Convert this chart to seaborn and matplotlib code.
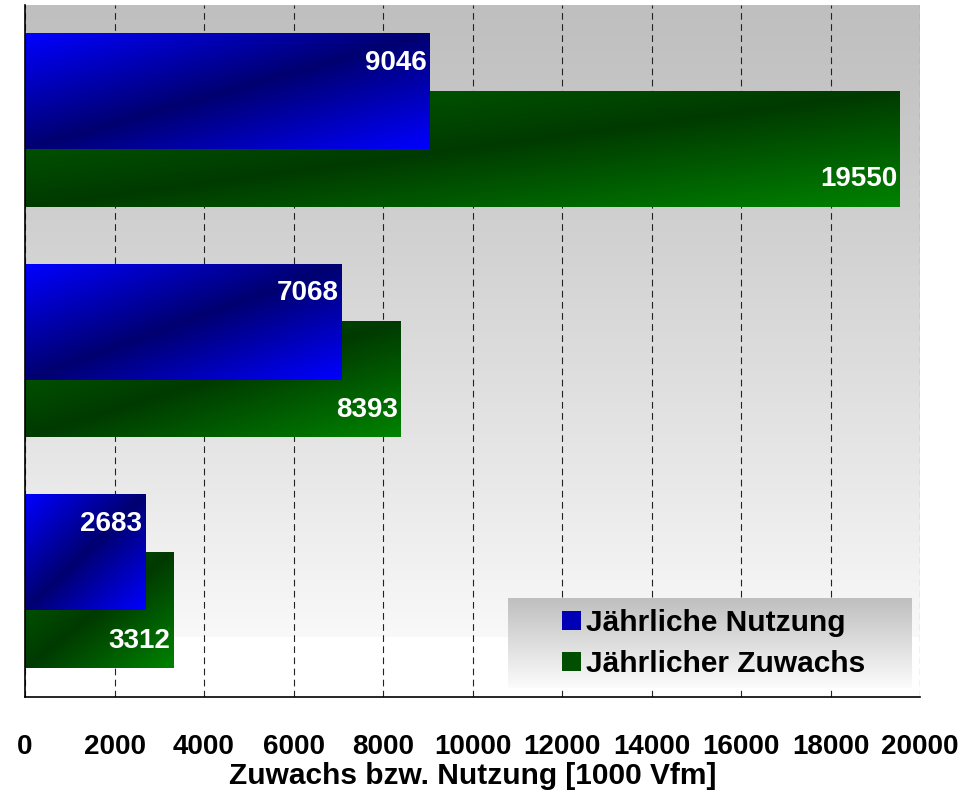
import numpy as np
import pandas as pd
import matplotlib
matplotlib.use("Agg")
import matplotlib.pyplot as plt
import seaborn as sns
from matplotlib.patches import Patch
from matplotlib.colors import to_rgb

# -------------------------
# Daten (von oben nach unten)
# -------------------------
gruppen = ["Gruppe 1", "Gruppe 2", "Gruppe 3"]   # Achsenbeschriftung im Original abgeschnitten
nutzung = [9046, 7068, 2683]
zuwachs = [19550, 8393, 3312]
serien = ["Jährliche Nutzung", "Jährlicher Zuwachs"]
x_ticks = list(range(0, 20001, 2000))

FONT = ["Liberation Sans", "DejaVu Sans"]
BLAU = ("#0000ff", "#000070", "#0000ff")
GRUEN = ("#006400", "#003a00", "#008200")


def diag_gradient(stops, n=64):
    # hell oben links / unten rechts, dunkel auf der Gegendiagonale
    u = np.linspace(0, 1, n)
    uu, vv = np.meshgrid(u, u)
    t = (uu + vv) / 2
    c0, c1, c2 = [np.array(to_rgb(c)) for c in stops]
    lo = np.clip(t / 0.5, 0, 1)[..., None]
    hi = np.clip((t - 0.5) / 0.5, 0, 1)[..., None]
    return np.where((t < 0.5)[..., None], c0 + (c1 - c0) * lo, c1 + (c2 - c1) * hi)


def fill_gradient(ax, patches, stops, z):
    for p in patches:
        x0, y0 = p.get_x(), p.get_y()
        w, h = p.get_width(), p.get_height()
        p.set_facecolor("none")
        p.set_edgecolor("none")
        ax.imshow(diag_gradient(stops), extent=(x0, x0 + w, y0 + h, y0),
                  origin="upper", aspect="auto", interpolation="bilinear", zorder=z)


sns.set_theme(style="white")
plt.rcParams["font.family"] = FONT
plt.rcParams["font.weight"] = "bold"
plt.rcParams["text.color"] = "black"
plt.rcParams["axes.labelcolor"] = "black"
plt.rcParams["xtick.color"] = "black"
plt.rcParams["ytick.color"] = "black"

fig = plt.figure(figsize=(9.66, 7.92), dpi=100)
fig.patch.set_facecolor("white")
ax = fig.add_axes([25 / 966, 95 / 792, 895 / 966, 692 / 792])

pos = np.arange(len(gruppen))
df_n = pd.DataFrame({"pos": pos - 0.125, "wert": nutzung})
df_z = pd.DataFrame({"pos": pos + 0.125, "wert": zuwachs})

sns.barplot(data=df_n, x="wert", y="pos", orient="h", native_scale=True,
            width=0.5, errorbar=None, color=BLAU[1], ax=ax)
p_n = list(ax.patches)
sns.barplot(data=df_z, x="wert", y="pos", orient="h", native_scale=True,
            width=0.5, errorbar=None, color=GRUEN[1], ax=ax)
p_z = [p for p in ax.patches if p not in p_n]

# Nutzung liegt vor dem Zuwachs
fill_gradient(ax, p_z, GRUEN, 2)
fill_gradient(ax, p_n, BLAU, 2.5)

# Werte
for i, v in enumerate(nutzung):
    ax.annotate(f"{v}", (v, pos[i] - 0.25), xytext=(-2, 0), textcoords="offset points",
                ha="right", va="center", color="white", fontsize=20,
                fontweight="bold", zorder=4)
for i, v in enumerate(zuwachs):
    ax.annotate(f"{v}", (v, pos[i] + 0.25), xytext=(-2, -1), textcoords="offset points",
                ha="right", va="center", color="white", fontsize=20,
                fontweight="bold", zorder=4)

# Hintergrund: grau oben -> weiss unten
g = ((np.linspace(0, 1, 256)) ** 1.15)[:, None]
bg = 0.75 + (0.975 - 0.75) * g
ax.imshow(np.dstack([bg, bg, bg]), extent=(0, 1, 0.087, 1), transform=ax.transAxes,
          origin="upper", aspect="auto", zorder=0.1)

# Legende mit Verlauf
lg = np.linspace(0.75, 0.985, 64)[:, None]
ax.imshow(np.dstack([lg, lg, lg]), extent=(0.54, 0.991, 0.013, 0.143),
          transform=ax.transAxes, origin="upper", aspect="auto", zorder=3)
handles = [Patch(facecolor="#0000b4", edgecolor="none"),
           Patch(facecolor="#004e00", edgecolor="none")]
leg = ax.legend(handles, serien, loc="center left", bbox_to_anchor=(0.6, 0.0773),
                frameon=False, borderpad=0, borderaxespad=0, handlelength=0.62,
                handleheight=0.62, handletextpad=0.2, labelspacing=0.45,
                prop={"family": FONT, "weight": "bold", "size": 21.5})
leg.set_zorder(5)

# Achsen
ax.set_xlim(0, 20000)
ax.set_ylim(len(gruppen) - 0.5, -0.5)
ax.set_xticks(x_ticks)
ax.set_xticklabels([str(t) for t in x_ticks])
ax.set_yticks(np.arange(len(gruppen) + 1) - 0.5)
ax.set_yticklabels([])
ax.set_ylabel("")
ax.set_xlabel("Zuwachs bzw. Nutzung [1000 Vfm]", fontsize=21.5, fontweight="bold",
              labelpad=1)
ax.tick_params(axis="x", direction="out", length=9, width=1, color="black",
               pad=18, labelsize=20)
ax.tick_params(axis="y", direction="out", length=8, width=1, color="black")
for t in ax.get_xticklabels():
    t.set_fontweight("bold")

ax.set_axisbelow(True)
ax.grid(axis="x", color="#222222", linestyle=(0, (6, 4)), linewidth=0.8)
ax.grid(axis="y", visible=False)
for s in ["top", "right"]:
    ax.spines[s].set_visible(False)
for s in ["left", "bottom"]:
    ax.spines[s].set_color("black")
    ax.spines[s].set_linewidth(1.2)
ax.set_facecolor("white")

fig.savefig("out.png", dpi=100)
plt.close(fig)
